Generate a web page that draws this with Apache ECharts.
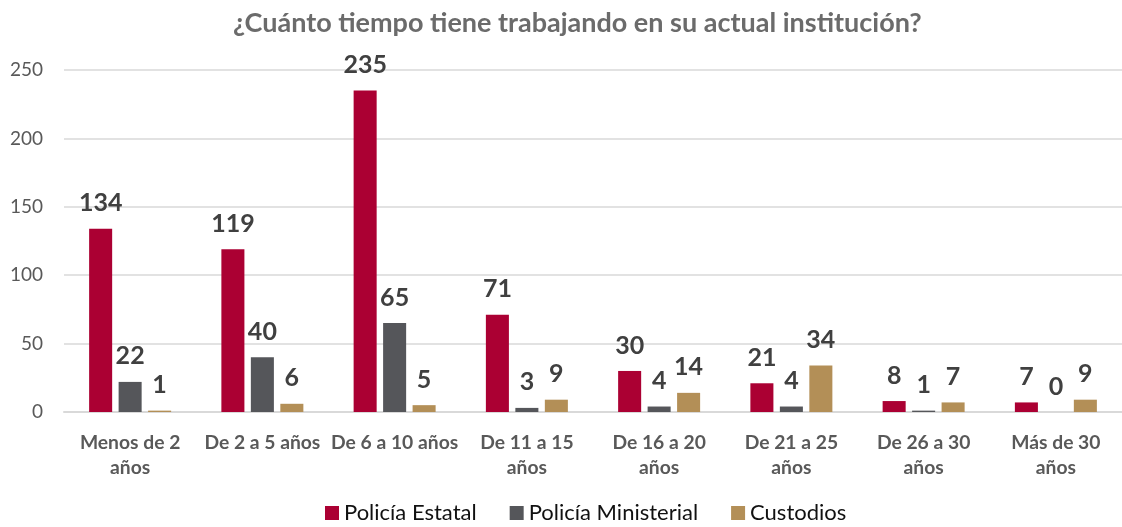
<!DOCTYPE html>
<html><head><meta charset="utf-8">
<script src="https://cdn.jsdelivr.net/npm/echarts@6/dist/echarts.min.js"></script>
<style>html,body{margin:0;padding:0;background:#fff}#c{width:1122px;height:527px}</style>
</head><body><div id="c"></div>
<script>
const categories = ['Menos de 2\naños','De 2 a 5 años','De 6 a 10 años','De 11 a 15\naños','De 16 a 20\naños','De 21 a 25\naños','De 26 a 30\naños','Más de 30\naños'];
const policiaEstatal = [134,119,235,71,30,21,8,7];
const policiaMinisterial = [22,40,65,3,4,4,1,0];
const custodios = [1,6,5,9,14,34,7,9];
const seriesNames = ['Policía Estatal','Policía Ministerial','Custodios'];
const colors = ['#AB0033','#55565A','#B38F57'];
const FONT = 'Lato, "Open Sans", sans-serif';
const chart = echarts.init(document.getElementById('c'));
const lbl = {show:true, position:'top', distance:13, fontFamily:FONT, fontWeight:'bold', fontSize:25, color:'#404040'};
chart.setOption({
  animation:false,
  title:{text:'¿Cuánto tiempo tiene trabajando en su actual institución?', left:228, top:5,
    textStyle:{fontFamily:FONT, fontWeight:'bold', fontSize:27, color:'#6b6b6b'}},
  legend:{left:320, bottom:-2, itemWidth:14, itemHeight:14, itemGap:33, icon:'rect',
    textStyle:{fontFamily:FONT, fontSize:22, color:'#111'}},
  grid:{left:64, right:-9, top:70, bottom:115},
  xAxis:{type:'category', data:categories,
    axisLine:{lineStyle:{color:'#d9d9d9', width:2}}, axisTick:{show:false},
    axisLabel:{fontFamily:FONT, fontWeight:'bold', fontSize:19.3, color:'#595959', margin:18, lineHeight:25, interval:0}},
  yAxis:{type:'value', min:0, max:250, interval:50,
    axisLine:{show:false}, axisTick:{show:false},
    splitLine:{lineStyle:{color:'#d9d9d9', width:1.5}},
    axisLabel:{fontFamily:FONT, fontSize:19, color:'#595959', margin:21}},
  series:[
    {name:seriesNames[0], type:'bar', data:policiaEstatal, itemStyle:{color:colors[0]}, label:lbl, barGap:'28%', barCategoryGap:'38%'},
    {name:seriesNames[1], type:'bar', data:policiaMinisterial, itemStyle:{color:colors[1]}, label:lbl, barGap:'28%', barCategoryGap:'38%'},
    {name:seriesNames[2], type:'bar', data:custodios, itemStyle:{color:colors[2]}, label:lbl, barGap:'28%', barCategoryGap:'38%'}
  ]
});
</script></body></html>
